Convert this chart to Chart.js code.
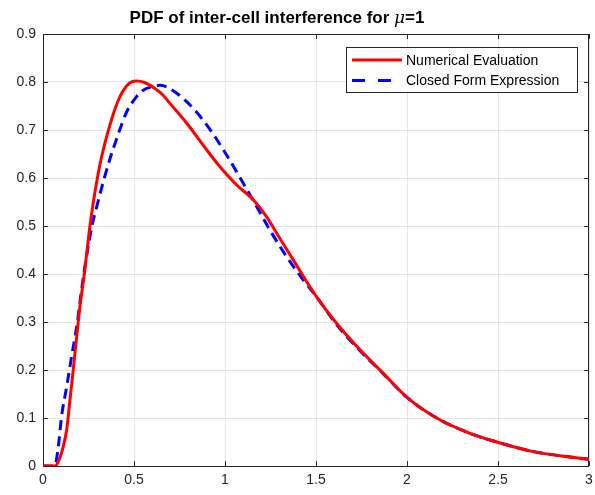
<!DOCTYPE html>
<html>
<head>
<meta charset="utf-8">
<script src="https://cdn.jsdelivr.net/npm/chart.js@4/dist/chart.umd.min.js"></script>
<style>
  html, body { margin: 0; padding: 0; background: #fff; }
  canvas { display: block; }
</style>
</head>
<body>
<canvas id="pdf" width="595" height="495"></canvas>
<script>
// values
const numX = [0, 0.066, 0.084, 0.111, 0.13, 0.148, 0.166, 0.185, 0.203, 0.227, 0.258, 0.276, 0.313, 0.34, 0.362, 0.386, 0.413, 0.441, 0.476, 0.513, 0.558, 0.613, 0.659, 0.696, 0.788, 0.879, 0.971, 1.063, 1.154, 1.227, 1.3, 1.374, 1.447, 1.504, 1.614, 1.742, 1.87, 2.0, 2.163, 2.346, 2.502, 2.694, 2.85, 3.0];
const numY = [0, 0, 0.009, 0.04, 0.075, 0.137, 0.2, 0.269, 0.332, 0.4, 0.5, 0.548, 0.628, 0.672, 0.703, 0.733, 0.761, 0.782, 0.798, 0.802, 0.799, 0.787, 0.773, 0.756, 0.715, 0.669, 0.624, 0.586, 0.555, 0.52, 0.475, 0.43, 0.385, 0.352, 0.297, 0.242, 0.193, 0.143, 0.1, 0.068, 0.049, 0.03, 0.021, 0.014];

const closedX = [0, 0.064, 0.084, 0.102, 0.13, 0.157, 0.185, 0.222, 0.269, 0.295, 0.331, 0.368, 0.414, 0.46, 0.505, 0.551, 0.597, 0.643, 0.733, 0.833, 0.925, 1.007, 1.099, 1.173, 1.246, 1.337, 1.429, 1.504, 1.614, 1.742, 1.87, 2.0, 2.163, 2.346, 2.502, 2.694, 2.85, 3.0];
const closedY = [0, 0, 0.04, 0.103, 0.165, 0.228, 0.29, 0.395, 0.5, 0.54, 0.592, 0.64, 0.692, 0.738, 0.765, 0.783, 0.79, 0.793, 0.777, 0.742, 0.697, 0.649, 0.59, 0.541, 0.492, 0.437, 0.388, 0.352, 0.294, 0.24, 0.192, 0.143, 0.1, 0.068, 0.049, 0.03, 0.021, 0.014];

const seriesNames = ["Numerical Evaluation", "Closed Form Expression"];
const xTicks = { min: 0, max: 3, step: 0.5 };
const yTicks = { min: 0, max: 0.9, step: 0.1 };

const FONT = "'Liberation Sans', Arial, Helvetica, sans-serif";
const AXIS = "#262626";

const toPts = (xs, ys) => xs.map((x, i) => ({ x, y: ys[i] }));
const fmt = (v) => String(+Number(v).toFixed(2));

// box around the axes + inward ticks on all four sides (matlab style)
const boxPlugin = {
  id: "box",
  beforeDatasetsDraw(chart) {
    const { ctx, chartArea: a, scales } = chart;
    ctx.save();
    ctx.strokeStyle = AXIS;
    ctx.lineWidth = 1;
    ctx.strokeRect(a.left + 0.5, a.top + 0.5, a.right - a.left - 1, a.bottom - a.top);
    ctx.beginPath();
    for (const t of scales.x.ticks) {
      const px = Math.round(scales.x.getPixelForValue(t.value)) + 0.5;
      ctx.moveTo(px, a.bottom); ctx.lineTo(px, a.bottom - 5);
      ctx.moveTo(px, a.top); ctx.lineTo(px, a.top + 5);
    }
    for (const t of scales.y.ticks) {
      const py = Math.round(scales.y.getPixelForValue(t.value)) + 0.5;
      ctx.moveTo(a.left, py); ctx.lineTo(a.left + 5, py);
      ctx.moveTo(a.right, py); ctx.lineTo(a.right - 5, py);
    }
    ctx.stroke();
    ctx.restore();
  },
};

// legend box inside the axes, top right
const legendPlugin = {
  id: "inLegend",
  afterDraw(chart) {
    const { ctx } = chart;
    const x0 = 346, y0 = 47, w = 231, h = 45;
    ctx.save();
    ctx.fillStyle = "#fff";
    ctx.fillRect(x0, y0, w, h);
    ctx.strokeStyle = AXIS;
    ctx.lineWidth = 1;
    ctx.strokeRect(x0 + 0.5, y0 + 0.5, w, h);
    ctx.font = "14px " + FONT;
    ctx.textBaseline = "middle";
    chart.data.datasets.forEach((ds, i) => {
      const y = y0 + 13 + i * 20.5;
      ctx.strokeStyle = ds.borderColor;
      ctx.lineWidth = 3;
      ctx.setLineDash(ds.legendDash || []);
      ctx.beginPath();
      ctx.moveTo(x0 + 6, y); ctx.lineTo(x0 + 56, y);
      ctx.stroke();
      ctx.setLineDash([]);
      ctx.fillStyle = "#000";
      ctx.fillText(ds.label, x0 + 60, y + 1);
    });
    ctx.restore();
  },
};

// title with italic mu
const titlePlugin = {
  id: "mTitle",
  afterDraw(chart) {
    const { ctx } = chart;
    const parts = [
      { t: "PDF of inter-cell interference for ", f: "bold 17px " + FONT },
      { t: "\u03bc", f: "italic 17px 'DejaVu Serif', serif" },
      { t: "=1", f: "bold 17px " + FONT },
    ];
    ctx.save();
    ctx.fillStyle = "#000";
    ctx.textBaseline = "alphabetic";
    let total = 0;
    for (const p of parts) { ctx.font = p.f; total += ctx.measureText(p.t).width; }
    let x = 277 - total / 2;
    for (const p of parts) {
      ctx.font = p.f;
      ctx.fillText(p.t, x, 23);
      x += ctx.measureText(p.t).width;
    }
    ctx.restore();
  },
};

new Chart(document.getElementById("pdf"), {
  type: "line",
  data: {
    datasets: [
      {
        label: seriesNames[0],
        data: toPts(numX, numY),
        borderColor: "#ff0000",
        borderWidth: 3,
        pointRadius: 0,
        cubicInterpolationMode: "monotone",
        fill: false,
      },
      {
        label: seriesNames[1],
        data: toPts(closedX, closedY),
        borderColor: "#0000ff",
        borderWidth: 3,
        borderDash: [10, 6],
        legendDash: [13, 13],
        pointRadius: 0,
        cubicInterpolationMode: "monotone",
        fill: false,
      },
    ],
  },
  options: {
    responsive: false,
    devicePixelRatio: 1,
    animation: false,
    layout: { padding: { top: 34, right: 6, left: 0, bottom: 0 } },
    plugins: { legend: { display: false }, title: { display: false }, tooltip: { enabled: false } },
    scales: {
      x: {
        type: "linear",
        min: xTicks.min,
        max: xTicks.max,
        afterFit: (s) => { s.height = 29; s.paddingRight = 0; s.paddingLeft = 0; },
        ticks: { stepSize: xTicks.step, callback: fmt, color: AXIS, font: { family: FONT, size: 14 }, padding: 6, maxRotation: 0 },
        grid: { color: "#e5e5e5", drawTicks: false },
        border: { display: false },
      },
      y: {
        type: "linear",
        min: yTicks.min,
        max: yTicks.max,
        afterFit: (s) => { s.width = 43; },
        ticks: { stepSize: yTicks.step, callback: fmt, color: AXIS, font: { family: FONT, size: 14 }, padding: 7 },
        grid: { color: "#e5e5e5", drawTicks: false },
        border: { display: false },
      },
    },
  },
  plugins: [boxPlugin, legendPlugin, titlePlugin],
});
</script>
</body>
</html>
